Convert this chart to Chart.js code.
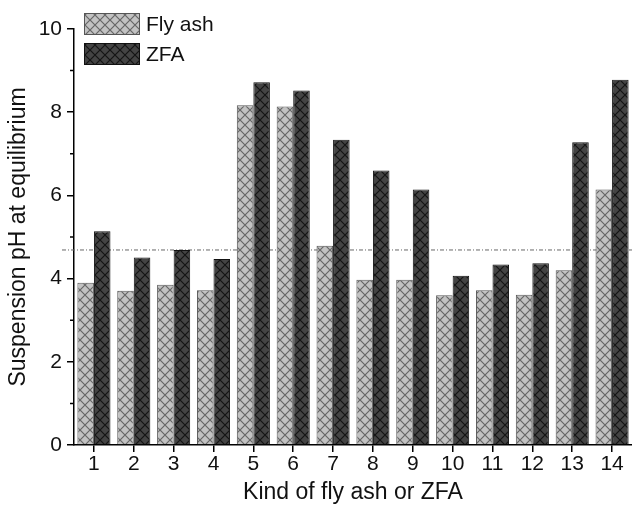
<!DOCTYPE html>
<html>
<head>
<meta charset="utf-8">
<script src="https://cdn.jsdelivr.net/npm/chart.js@4/dist/chart.umd.min.js"></script>
<style>
  html, body { margin: 0; padding: 0; background: #fff; }
  #wrap { width: 632px; height: 505px; }
</style>
</head>
<body>
<div id="wrap"><canvas id="myChart" width="632" height="505"></canvas></div>
<script>
const kinds = ['1', '2', '3', '4', '5', '6', '7', '8', '9', '10', '11', '12', '13', '14']
const flyAsh = [3.90, 3.71, 3.85, 3.72, 8.17, 8.14, 4.79, 3.97, 3.97, 3.60, 3.72, 3.61, 4.20, 6.14]
const zfa = [5.14, 4.51, 4.69, 4.47, 8.72, 8.52, 7.34, 6.60, 6.14, 4.07, 4.34, 4.37, 7.28, 8.78]
const refPH = 4.70
const minorTicks = [1, 3, 5, 7, 9]

const fontName = "'Liberation Sans', Arial, sans-serif"

function hatch(bg, fg) {
    let c = document.createElement('canvas')
    c.width = 10
    c.height = 10
    let g = c.getContext('2d')
    g.fillStyle = bg
    g.fillRect(0, 0, 10, 10)
    g.strokeStyle = fg
    g.lineWidth = 1.2
    g.beginPath()
    g.moveTo(-1, -1); g.lineTo(11, 11)
    g.moveTo(11, -1); g.lineTo(-1, 11)
    g.stroke()
    return g.createPattern(c, 'repeat')
}

const lightFill = hatch('#c2c2c2', '#666666')
const darkFill = hatch('#444444', '#141414')

const extras = {
    id: 'extras',
    beforeDatasetsDraw(chart) {
        const ctx = chart.ctx
        const a = chart.chartArea
        const y = chart.scales.y.getPixelForValue(refPH)
        ctx.save()
        ctx.strokeStyle = '#666'
        ctx.lineWidth = 1
        ctx.setLineDash([4, 2, 1, 2])
        ctx.beginPath()
        ctx.moveTo(a.left - 12, y + 0.5)
        ctx.lineTo(a.right, y + 0.5)
        ctx.stroke()
        ctx.restore()
    },
    afterDraw(chart) {
        const ctx = chart.ctx
        const ys = chart.scales.y
        ctx.save()
        // minor ticks on y axis
        ctx.strokeStyle = '#000'
        ctx.lineWidth = 1.5
        ctx.beginPath()
        minorTicks.forEach(v => {
            let p = ys.getPixelForValue(v)
            ctx.moveTo(ys.right, p)
            ctx.lineTo(ys.right - 4, p)
        })
        ctx.stroke()
        // legend
        const a = chart.chartArea
        chart.data.datasets.forEach((ds, i) => {
            let x = a.left + 10
            let y = 13 + i * 30
            ctx.fillStyle = ds.backgroundColor
            ctx.fillRect(x, y, 56, 22)
            ctx.strokeStyle = ds.borderColor
            ctx.lineWidth = 1
            ctx.strokeRect(x + 0.5, y + 0.5, 55, 21)
            ctx.fillStyle = '#111'
            ctx.font = '21px ' + fontName
            ctx.textBaseline = 'middle'
            ctx.fillText(ds.label, x + 62, y + 12)
        })
        ctx.restore()
    }
}

var ctx = document.getElementById('myChart')
let chart = new Chart(ctx, {
    type: 'bar',
    data: {
        labels: kinds,
        datasets: [{
            label: 'Fly ash',
            data: flyAsh,
            backgroundColor: lightFill,
            borderColor: '#555',
            borderWidth: 1
        }, {
            label: 'ZFA',
            data: zfa,
            backgroundColor: darkFill,
            borderColor: '#111',
            borderWidth: 1
        }]
    },
    options: {
        responsive: false,
        animation: false,
        layout: { padding: { top: 29, right: 0, bottom: 0, left: 0 } },
        datasets: { bar: { categoryPercentage: 0.83, barPercentage: 1.0 } },
        plugins: { legend: { display: false }, tooltip: { enabled: false } },
        scales: {
            x: {
                afterFit(s) { s.height = 60 },
                grid: { drawOnChartArea: false, offset: false, tickLength: 7, color: '#000', lineWidth: 1.5 },
                border: { color: '#000', width: 1.5 },
                ticks: { color: '#111', font: { family: fontName, size: 21 }, padding: 0, maxRotation: 0 },
                title: { display: true, text: 'Kind of fly ash or ZFA', color: '#111', font: { family: fontName, size: 23 }, padding: { top: 0, bottom: -1 } }
            },
            y: {
                min: 0,
                max: 10,
                afterFit(s) { s.width = 74 },
                grid: { drawOnChartArea: false, tickLength: 7, color: '#000', lineWidth: 1.5 },
                border: { color: '#000', width: 1.5 },
                ticks: { stepSize: 2, color: '#111', font: { family: fontName, size: 21 }, padding: 5 },
                title: { display: true, text: 'Suspension pH at equilibrium', color: '#111', font: { family: fontName, size: 23 }, padding: { top: 5, bottom: 0 } }
            }
        }
    },
    plugins: [extras]
})
</script>
</body>
</html>
